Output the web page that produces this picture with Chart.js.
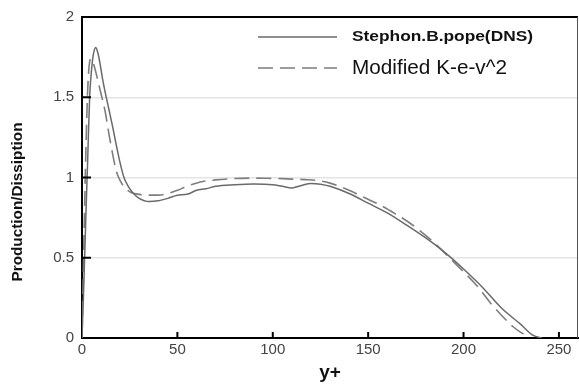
<!DOCTYPE html>
<html>
<head>
<meta charset="utf-8">
<script src="https://cdn.jsdelivr.net/npm/chart.js@4/dist/chart.umd.min.js"></script>
<style>
  html, body { margin: 0; padding: 0; background: #fff; }
  #wrap { width: 579px; height: 386px; position: relative; }
</style>
</head>
<body>
<div id="wrap"><canvas id="chart"></canvas></div>
<script>
"use strict";

// DNS curve (solid)
const dnsX = [0, 1, 2, 3, 4, 5, 6, 7.2, 8, 9, 10, 11, 12, 14, 16, 18, 20, 22, 24, 27, 30, 35, 40, 45, 50, 55, 60, 65, 70, 80, 90, 100, 105, 110, 115, 120, 125, 130, 140, 150, 160, 170, 180, 190, 200, 210, 220, 230, 236, 241];
const dnsY = [0, 0.35, 0.75, 1.12, 1.5, 1.67, 1.77, 1.81, 1.79, 1.74, 1.67, 1.6, 1.54, 1.43, 1.32, 1.2, 1.09, 1.0, 0.95, 0.9, 0.87, 0.85, 0.855, 0.87, 0.89, 0.895, 0.92, 0.93, 0.945, 0.955, 0.96, 0.955, 0.945, 0.935, 0.95, 0.962, 0.958, 0.945, 0.9, 0.84, 0.78, 0.705, 0.625, 0.535, 0.43, 0.315, 0.185, 0.085, 0.02, 0.0];

// model curve (dashed)
const modelX = [0, 1, 2, 3, 4, 4.8, 6, 8, 10, 12, 14, 16, 18, 20, 23, 26, 30, 35, 40, 45, 50, 55, 62, 70, 79, 90, 97, 105, 110, 117, 123, 130, 140, 148, 156, 164, 172, 184, 196, 207, 214, 220, 226, 230, 234];
const modelY = [0, 0.6, 1.15, 1.55, 1.72, 1.74, 1.71, 1.62, 1.52, 1.42, 1.28, 1.15, 1.04, 0.98, 0.93, 0.905, 0.895, 0.89, 0.89, 0.9, 0.92, 0.945, 0.972, 0.985, 0.993, 0.996, 0.995, 0.993, 0.99, 0.987, 0.982, 0.965, 0.92, 0.875, 0.83, 0.775, 0.715, 0.6, 0.46, 0.326, 0.22, 0.14, 0.07, 0.035, 0.01];

const seriesLabels = ['Stephon.B.pope(DNS)', 'Modified K-e-v^2'];
const xTicks = [0, 50, 100, 150, 200, 250];
const yTicks = [0, 0.5, 1, 1.5, 2];
const xTitle = 'y+';
const yTitle = 'Production/Dissiption';

const FONT = '"Liberation Sans", Arial, sans-serif';

function points(xs, ys) {
  return xs.map(function(x, i) { return {x: x, y: ys[i]}; });
}

// draw text squeezed/stretched to a given width
function fitText(ctx, text, x, y, w) {
  const m = ctx.measureText(text).width;
  ctx.save();
  ctx.translate(x, y);
  ctx.scale(w / m, 1);
  ctx.fillText(text, 0, 0);
  ctx.restore();
}

const decor = {
  id: 'decor',
  afterDraw: function(chart) {
    const ctx = chart.ctx;
    const a = chart.chartArea;
    const xs = chart.scales.x, ys = chart.scales.y;
    ctx.save();

    // frame: top black, right grey
    ctx.strokeStyle = '#000';
    ctx.lineWidth = 2;
    ctx.beginPath();
    ctx.moveTo(a.left, a.top);
    ctx.lineTo(a.right, a.top);
    ctx.stroke();
    ctx.strokeStyle = '#555';
    ctx.lineWidth = 1;
    ctx.beginPath();
    ctx.moveTo(a.right - 0.5, a.top);
    ctx.lineTo(a.right - 0.5, a.bottom);
    ctx.stroke();

    // inward ticks
    ctx.strokeStyle = '#000';
    ctx.lineWidth = 2;
    xTicks.forEach(function(v) {
      if (v === 0) return;
      const px = xs.getPixelForValue(v);
      ctx.beginPath();
      ctx.moveTo(px, a.bottom);
      ctx.lineTo(px, a.bottom - 6);
      ctx.stroke();
    });
    yTicks.forEach(function(v) {
      if (v === 0 || v === 2) return;
      const py = ys.getPixelForValue(v);
      ctx.beginPath();
      ctx.moveTo(a.left, py);
      ctx.lineTo(a.left + 9, py);
      ctx.stroke();
    });

    // y title
    ctx.fillStyle = '#111';
    ctx.font = 'bold 15px ' + FONT;
    ctx.textAlign = 'center';
    ctx.textBaseline = 'middle';
    ctx.translate(18, 202);
    ctx.rotate(-Math.PI / 2);
    fitText(ctx, yTitle, 0, 0, 159);
    ctx.restore();

    // legend
    ctx.save();
    const ds = chart.data.datasets;
    const rows = [
      {y: 37, font: 'bold 14px ' + FONT, w: 181},
      {y: 68, font: '20px ' + FONT, w: 155}
    ];
    ds.forEach(function(d, i) {
      const r = rows[i];
      ctx.strokeStyle = d.borderColor;
      ctx.lineWidth = 1.5;
      ctx.setLineDash(d.borderDash || []);
      ctx.beginPath();
      ctx.moveTo(258, r.y);
      ctx.lineTo(337, r.y);
      ctx.stroke();
      ctx.setLineDash([]);
      ctx.fillStyle = '#111';
      ctx.font = r.font;
      ctx.textAlign = 'left';
      ctx.textBaseline = 'middle';
      fitText(ctx, d.label, 352, r.y, r.w);
    });
    ctx.restore();
  }
};

new Chart('chart', {
  type: 'scatter',
  data: {
    datasets: [
      {
        label: seriesLabels[0],
        data: points(dnsX, dnsY),
        showLine: true,
        borderColor: '#6a6a6a',
        borderWidth: 1.5,
        pointRadius: 0,
        tension: 0.3,
        cubicInterpolationMode: 'monotone'
      },
      {
        label: seriesLabels[1],
        data: points(modelX, modelY),
        showLine: true,
        borderColor: '#7e7e7e',
        borderWidth: 1.6,
        borderDash: [15, 7],
        pointRadius: 0,
        tension: 0.3,
        cubicInterpolationMode: 'monotone'
      }
    ]
  },
  options: {
    responsive: true,
    maintainAspectRatio: false,
    animation: false,
    layout: { padding: { top: 13, right: 1, left: 0, bottom: 0 } },
    plugins: { legend: { display: false }, tooltip: { enabled: false } },
    scales: {
      x: {
        type: 'linear',
        min: 0,
        max: 260,
        afterBuildTicks: function(s) { s.ticks = xTicks.map(function(v) { return {value: v}; }); },
        afterFit: function(s) { s.height = 48; },
        grid: { display: false, drawTicks: false },
        border: { display: true, color: '#000', width: 2 },
        ticks: { color: '#444', font: { family: FONT, size: 15 }, padding: 3, maxRotation: 0,
                 callback: function(v) { return String(v); } },
        title: { display: true, text: xTitle, color: '#111', font: { family: FONT, size: 19, weight: 'bold' }, padding: { top: 0, bottom: 2 } }
      },
      y: {
        type: 'linear',
        min: 0,
        max: 2,
        afterBuildTicks: function(s) { s.ticks = yTicks.map(function(v) { return {value: v}; }); },
        afterFit: function(s) { s.width = 82; },
        grid: {
          drawTicks: false,
          color: function(c) { return (c.tick && (c.tick.value === 0 || c.tick.value === 2)) ? 'rgba(0,0,0,0)' : '#e4e4e4'; },
          lineWidth: 1.5
        },
        border: { display: true, color: '#000', width: 2 },
        ticks: { color: '#444', font: { family: FONT, size: 15 }, padding: 8,
                 callback: function(v) { return String(v); } }
      }
    }
  },
  plugins: [decor]
});
</script>
</body>
</html>
